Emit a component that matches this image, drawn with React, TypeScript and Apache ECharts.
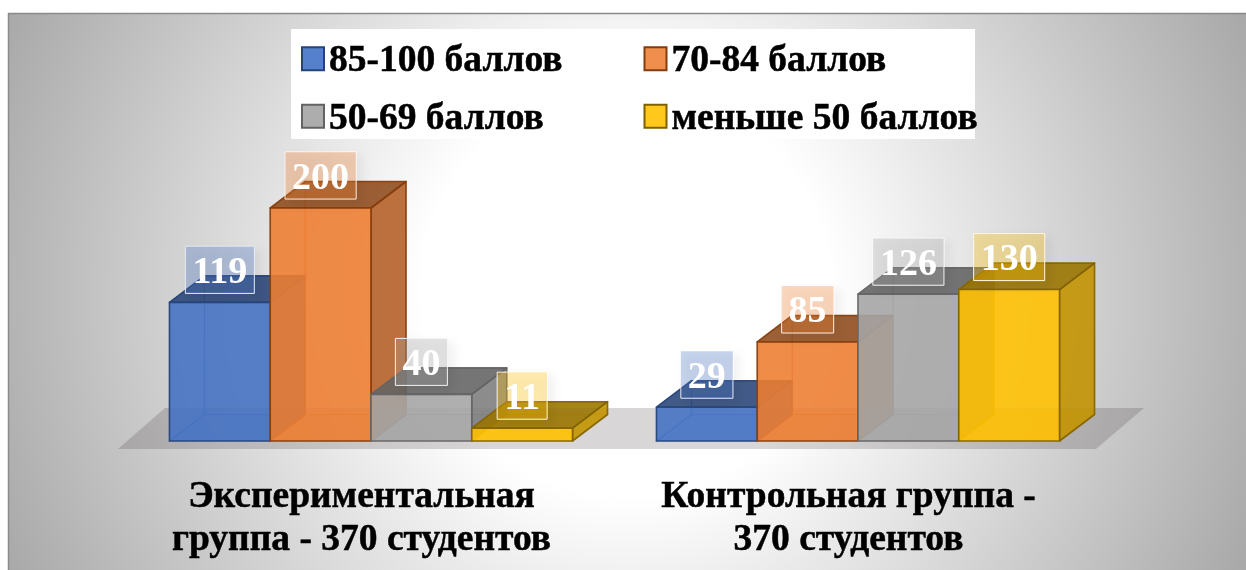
import React, { useEffect, useRef } from "react";
import * as echarts from "echarts";

const categories = ["Экспериментальная\nгруппа - 370 студентов", "Контрольная группа -\n370 студентов"];
const seriesNames = ["85-100 баллов", "70-84 баллов", "50-69 баллов", "меньше 50 баллов"];
const values85to100 = [119, 29];
const values70to84 = [200, 85];
const values50to69 = [40, 126];
const valuesBelow50 = [11, 130];
const allValues = [values85to100, values70to84, values50to69, valuesBelow50];

const FONT = '"Liberation Serif", "Times New Roman", serif';
const palette = [
  { base: [68, 114, 196], line: [38, 68, 120], swatch: "#5580cb" },
  { base: [237, 125, 49], line: [132, 60, 12], swatch: "#ef8e4d" },
  { base: [165, 165, 165], line: [99, 99, 99], swatch: "#adadad" },
  { base: [255, 192, 0], line: [127, 96, 0], swatch: "#ffc81a" },
];
const rgba = (c: number[], a: number, k = 1) =>
  `rgba(${Math.round(c[0] * k)},${Math.round(c[1] * k)},${Math.round(c[2] * k)},${a})`;

const BAR_RATIO = 0.2069;
const DEPTH_X = 35;
const DEPTH_Y = 26.5;
const GROUP_SHIFT = 9.5;
const LABEL_ABOVE = 32.5;

function makeRender(seriesIndex: number) {
  const { base, line } = palette[seriesIndex];
  return (_params: any, api: any) => {
    const idx = api.value(0);
    const val = api.value(1);
    const top = api.coord([idx, val]);
    const bottom = api.coord([idx, 0]);
    const w = api.size([1, 0])[0] * BAR_RATIO;
    const x0 = top[0] + GROUP_SHIFT + (seriesIndex - 2) * w;
    const x1 = x0 + w;
    const yT = top[1];
    const yB = bottom[1];
    const dx = DEPTH_X;
    const dy = DEPTH_Y;
    const edge = { stroke: rgba(line, 0.9), lineWidth: 1.6, lineJoin: "round" };
    const inner = { stroke: rgba(base, 0.45, 0.85), lineWidth: 1.2 };
    const poly = (points: number[][], style: any) => ({ type: "polygon", shape: { points }, style });
    return {
      type: "group",
      children: [
        poly(
          [[x0, yB], [x1, yB], [x1 + dx, yB - dy], [x0 + dx, yB - dy]],
          { fill: rgba(base, 0.18), ...inner }
        ),
        poly(
          [[x0 + dx, yT - dy], [x1 + dx, yT - dy], [x1 + dx, yB - dy], [x0 + dx, yB - dy]],
          { fill: rgba(base, 0.1), ...inner }
        ),
        poly(
          [[x0, yT], [x0 + dx, yT - dy], [x0 + dx, yB - dy], [x0, yB]],
          { fill: rgba(base, 0.1), ...inner }
        ),
        poly(
          [[x1, yT], [x1 + dx, yT - dy], [x1 + dx, yB - dy], [x1, yB]],
          { fill: rgba(base, 0.88, 0.76), ...edge }
        ),
        poly(
          [[x0, yT], [x1, yT], [x1 + dx, yT - dy], [x0 + dx, yT - dy]],
          { fill: rgba(base, 0.88, 0.6), ...edge }
        ),
        poly(
          [[x0, yT], [x1, yT], [x1, yB], [x0, yB]],
          { fill: rgba(base, 0.88), ...edge }
        ),
        {
          type: "text",
          x: (x0 + x1) / 2,
          y: yT - LABEL_ABOVE,
          z2: 100,
          style: {
            text: String(val),
            fill: "#ffffff",
            font: `bold 38px ${FONT}`,
            align: "center",
            verticalAlign: "middle",
            textBorderColor: "#ffffff",
            textBorderWidth: 0.5,
            backgroundColor: rgba(base, 0.3),
            borderColor: "rgba(255,255,255,0.5)",
            borderWidth: 1,
            padding: [5, 7, 4, 7],
            shadowColor: "rgba(0,0,0,0.16)",
            shadowBlur: 10,
            shadowOffsetX: 5,
            shadowOffsetY: 5,
          },
        },
      ],
    };
  };
}

export default function App() {
  const ref = useRef<HTMLDivElement>(null);
  useEffect(() => {
    const chart = echarts.init(ref.current!, undefined, { renderer: "svg" });
    const legendBase = {
      orient: "vertical",
      padding: 0,
      itemWidth: 22,
      itemHeight: 23,
      itemGap: 19,
      icon: "rect",
      top: 39.5,
      selectedMode: false,
      textStyle: {
        fontFamily: FONT,
        fontWeight: "bold",
        fontSize: 37.5,
        color: "#000",
        textBorderColor: "#000",
        textBorderWidth: 0.5,
      },
    };
    const legendItem = (i: number) => ({
      name: seriesNames[i],
      icon: "rect",
      itemStyle: { color: palette[i].swatch, borderColor: rgba(palette[i].line, 1), borderWidth: 2 },
    });
    chart.setOption({
      animation: false,
      grid: { left: 118, top: 149.75, width: 974, height: 291.25 },
      xAxis: {
        type: "category",
        data: categories,
        axisLine: { show: false },
        axisTick: { show: false },
        axisLabel: {
          interval: 0,
          margin: 32,
          fontFamily: FONT,
          fontWeight: "bold",
          fontSize: 37.5,
          lineHeight: 43,
          color: "#000",
          textBorderColor: "#000",
          textBorderWidth: 0.5,
        },
      },
      yAxis: { type: "value", min: 0, max: 250, show: false, splitLine: { show: false } },
      legend: [
        { ...legendBase, left: 301, data: [legendItem(0), legendItem(2)] },
        { ...legendBase, left: 643.5, data: [legendItem(1), legendItem(3)] },
      ],
      graphic: [
        {
          type: "rect",
          z: -10,
          silent: true,
          shape: { x: 8.5, y: 13.5, width: 1240, height: 560 },
          style: {
            fill: new echarts.graphic.RadialGradient(626, 292, 680, [
              { offset: 0, color: "#ffffff" },
              { offset: 0.3, color: "#ffffff" },
              { offset: 1, color: "#a8a8a8" },
            ], true),
            stroke: "#8a8a8a",
            lineWidth: 1.5,
          },
        },
        {
          type: "rect",
          z: -9,
          silent: true,
          shape: { x: 291, y: 29, width: 684, height: 110 },
          style: { fill: "#ffffff" },
        },
        {
          type: "polygon",
          z: -8,
          silent: true,
          shape: { points: [[118, 449], [165, 408], [1144, 408], [1096, 449]] },
          style: { fill: "rgba(60,50,50,0.2)" },
        },
      ],
      series: seriesNames.map((name, i) => ({
        name,
        type: "custom",
        coordinateSystem: "cartesian2d",
        clip: false,
        z: 2 + i,
        itemStyle: { color: palette[i].swatch },
        encode: { x: 0, y: 1 },
        data: allValues[i].map((v, c) => [c, v]),
        renderItem: makeRender(i),
      })),
    });
    return () => chart.dispose();
  }, []);
  return (
    <div
      ref={ref}
      style={{ position: "fixed", left: 0, top: 0, width: 1246, height: 570 }}
    />
  );
}
